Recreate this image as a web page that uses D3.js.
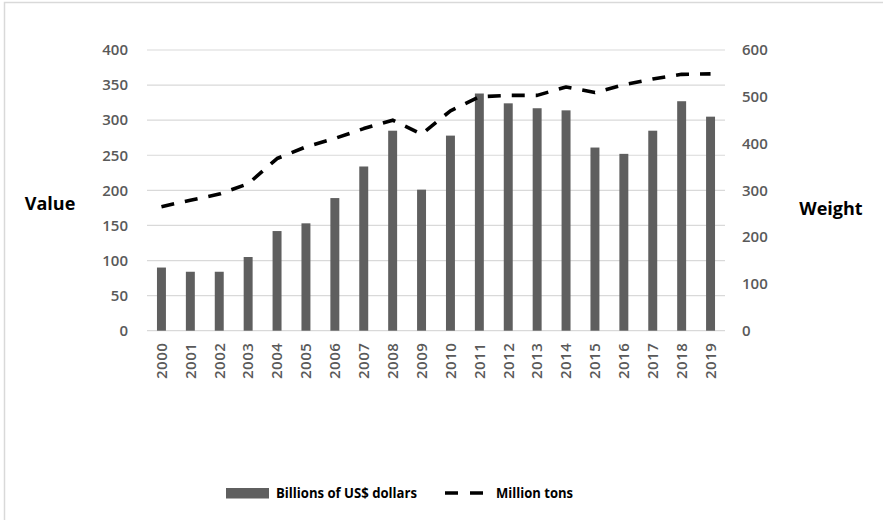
<!DOCTYPE html>
<html><head><meta charset="utf-8">
<script src="https://cdn.jsdelivr.net/npm/d3@7"></script>
<style>
html,body{margin:0;padding:0;background:#fff;}
text{font-family:"Open Sans",sans-serif;}
</style></head>
<body><svg id="c" width="883" height="520"></svg>
<script>
const years = ["2000","2001","2002","2003","2004","2005","2006","2007","2008","2009","2010","2011","2012","2013","2014","2015","2016","2017","2018","2019"];
const valueBillions = [90,84,84,105,142,153,189,234,285,201,278,338,324,317,314,261,252,285,327,305];
const weightMillionTons = [265,279,292,314,368,393,411,432,450,420,470,500,503,503,521,509,526,538,548,549];
const leftTicks = [0,50,100,150,200,250,300,350,400];
const rightTicks = [0,100,200,300,400,500,600];
const seriesNames = ["Billions of US$ dollars","Million tons"];

const svg = d3.select("#c");
const m = {l:147, r:725, t:50, b:330.7};

svg.append("rect").attr("x",4.5).attr("y",2.5).attr("width",900).attr("height",600)
  .attr("fill","none").attr("stroke","#d9d9d9").attr("stroke-width",1.5);

const x = d3.scaleBand().domain(years).range([m.l,m.r]).paddingInner(0.69).paddingOuter(0.345);
const yL = d3.scaleLinear().domain([0,400]).range([m.b,m.t]);
const yR = d3.scaleLinear().domain([0,600]).range([m.b,m.t]);

// gridlines
svg.append("g").selectAll("line").data(leftTicks).join("line")
  .attr("x1",m.l).attr("x2",m.r).attr("y1",d=>yL(d)).attr("y2",d=>yL(d))
  .attr("stroke","#d9d9d9").attr("stroke-width",1.2);

// bars
svg.append("g").selectAll("rect").data(valueBillions).join("rect")
  .attr("x",(d,i)=>x(years[i])).attr("width",x.bandwidth())
  .attr("y",d=>yL(d)).attr("height",d=>yL(0)-yL(d))
  .attr("fill","#5f5f5f");

// line
const line = d3.line().x((d,i)=>x(years[i])+x.bandwidth()/2).y(d=>yR(d));
svg.append("path").datum(weightMillionTons).attr("d",line)
  .attr("fill","none").attr("stroke","#000").attr("stroke-width",3.6)
  .attr("stroke-dasharray","13,11").attr("stroke-linejoin","round");

// left axis
const axL = d3.axisLeft(yL).tickValues(leftTicks).tickSize(0).tickPadding(19);
const gL = svg.append("g").attr("transform",`translate(${m.l},0)`).call(axL);
gL.select(".domain").remove();
gL.selectAll("text").attr("font-size",15).attr("font-weight",600).attr("fill","#595959").attr("font-family","Open Sans");

// right axis
const axR = d3.axisRight(yR).tickValues(rightTicks).tickSize(0).tickPadding(17);
const gR = svg.append("g").attr("transform",`translate(${m.r},0)`).call(axR);
gR.select(".domain").remove();
gR.selectAll("text").attr("font-size",15).attr("font-weight",600).attr("fill","#595959").attr("font-family","Open Sans");

// x axis
const axX = d3.axisBottom(x).tickSize(0).tickPadding(0);
const gX = svg.append("g").attr("transform",`translate(0,${m.b})`).call(axX);
gX.select(".domain").remove();
gX.selectAll("text").attr("font-size",15).attr("font-weight",600).attr("fill","#595959").attr("font-family","Open Sans")
  .attr("transform","rotate(-90)").attr("text-anchor","end").attr("x",-12).attr("y",0).attr("dy","0.35em")
  .attr("letter-spacing","0.5px");

// axis titles
svg.append("text").attr("x",50).attr("y",210).attr("text-anchor","middle")
  .attr("font-size",18).attr("font-weight",700).attr("fill","#000").text("Value");
svg.append("text").attr("x",831).attr("y",215).attr("text-anchor","middle")
  .attr("font-size",18).attr("font-weight",700).attr("fill","#000").text("Weight");

// legend
const lg = svg.append("g");
lg.append("rect").attr("x",226).attr("y",488).attr("width",43).attr("height",10.5).attr("fill","#5f5f5f");
lg.append("text").attr("x",276).attr("y",498).attr("font-size",14).attr("font-weight",700)
  .attr("fill","#000").attr("textLength",141).attr("lengthAdjust","spacingAndGlyphs").text(seriesNames[0]);
lg.append("line").attr("x1",445).attr("x2",483).attr("y1",493).attr("y2",493)
  .attr("stroke","#000").attr("stroke-width",3.6).attr("stroke-dasharray","13,12");
lg.append("text").attr("x",496).attr("y",498).attr("font-size",14).attr("font-weight",700)
  .attr("fill","#000").attr("textLength",77).attr("lengthAdjust","spacingAndGlyphs").text(seriesNames[1]);
</script></body></html>
